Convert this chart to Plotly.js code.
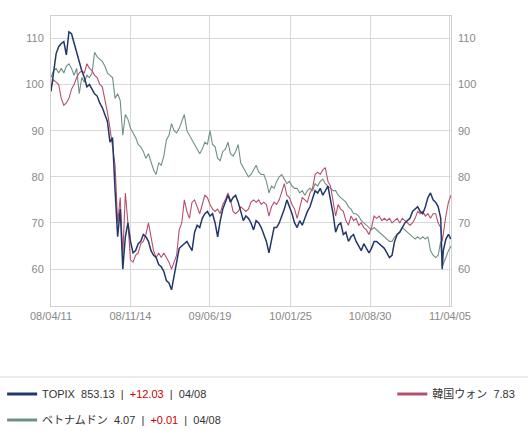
<!DOCTYPE html>
<html>
<head>
<meta charset="utf-8">
<script src="https://cdn.plot.ly/plotly-3.0.1.min.js"></script>
<style>html,body{margin:0;padding:0;background:#fff;}#chart{width:528px;height:431px;}</style>
</head>
<body>
<div id="chart"></div>
<script>
const dates = [
"2008-04-11","2008-04-18","2008-04-25","2008-05-02","2008-05-09","2008-05-16","2008-05-23","2008-05-30","2008-06-06","2008-06-13",
"2008-06-20","2008-06-27","2008-07-04","2008-07-11","2008-07-18","2008-07-25","2008-08-01","2008-08-08","2008-08-15","2008-08-22",
"2008-08-29","2008-09-05","2008-09-12","2008-09-19","2008-09-26","2008-10-03","2008-10-10","2008-10-17","2008-10-24","2008-10-31",
"2008-11-07","2008-11-14","2008-11-21","2008-11-28","2008-12-05","2008-12-12","2008-12-19","2008-12-26",
"2009-01-02","2009-01-09","2009-01-16","2009-01-23","2009-01-30","2009-02-06","2009-02-13","2009-02-20","2009-02-27","2009-03-06",
"2009-03-13","2009-03-20","2009-03-27","2009-04-03","2009-04-10","2009-04-17","2009-04-24","2009-05-01","2009-05-08","2009-05-15",
"2009-05-22","2009-05-29","2009-06-05","2009-06-12","2009-06-19","2009-06-26","2009-07-03","2009-07-10","2009-07-17","2009-07-24",
"2009-07-31","2009-08-07","2009-08-14","2009-08-21","2009-08-28","2009-09-04","2009-09-11","2009-09-18","2009-09-25","2009-10-02",
"2009-10-09","2009-10-16","2009-10-23","2009-10-30","2009-11-06","2009-11-13","2009-11-20","2009-11-27","2009-12-04","2009-12-11",
"2009-12-18","2009-12-25",
"2010-01-01","2010-01-08","2010-01-15","2010-01-22","2010-01-29","2010-02-05","2010-02-12","2010-02-19","2010-02-26","2010-03-05",
"2010-03-12","2010-03-19","2010-03-26","2010-04-02","2010-04-09","2010-04-16","2010-04-23","2010-04-30","2010-05-07","2010-05-14",
"2010-05-21","2010-05-28","2010-06-04","2010-06-11","2010-06-18","2010-06-25","2010-07-02","2010-07-09","2010-07-16","2010-07-23",
"2010-07-30","2010-08-06","2010-08-13","2010-08-20","2010-08-27","2010-09-03","2010-09-10","2010-09-17","2010-09-24","2010-10-01",
"2010-10-08","2010-10-15","2010-10-22","2010-10-29","2010-11-05","2010-11-12","2010-11-19","2010-11-26","2010-12-03","2010-12-10",
"2010-12-17","2010-12-24","2010-12-31",
"2011-01-07","2011-01-14","2011-01-21","2011-01-28","2011-02-04","2011-02-11","2011-02-18","2011-02-25","2011-03-04","2011-03-11",
"2011-03-15","2011-03-18","2011-03-25","2011-04-01","2011-04-08"
];

const topix = [
98.5,102.5,106.7,108.2,108.9,109.3,106.4,111.4,111,109,
107,104.5,103,101.5,99.5,100,99,98,97.5,96,
95,93.5,92,87.5,88.5,77,67,73,60,67,
70,66,63.5,64,65.5,66,67.5,67,66,64,
63,62.5,61,60.5,59.5,57.5,57,55.5,58.5,62,
64.5,65,65.5,66,65,64,68,69.5,69,71,
72,72.5,71.5,72,70,67,70.5,73,74.5,76,
74.5,75.5,76,74.5,72.5,70.5,71.5,71,70,68.5,
70.5,70,69,67.5,66,63.5,66.5,69,69,70,
71.5,73,75,73.5,72,70,69,70.5,69.5,71,
72.5,73.5,75.5,77,76.5,77.5,76,77,78,75,
72,68,69.5,70,67.5,68,66,67,67.5,66,
65,64,65.5,64.5,63.5,64.5,66,66,65.5,65,
64.5,63.5,62.5,63,66,67.5,68,69,70,70.5,
71,72.5,73,73.5,72.5,72,73.5,75.5,76.5,75,
74.5,73.5,71,
60,64,66.5,67.5,66.5
];

const krw = [
99.5,101,100.5,100,97,95.5,96,97,99,100,
101.5,102.5,103,102.5,104.5,103.5,103,102,101.5,100,
99.5,97,94,90.5,86.5,82.5,70,75.5,63,76.5,
70,62,61.5,63,63.5,65.5,66,67.5,70,67,
64,62.5,63.5,62.5,63.5,62.5,61.5,60,61.5,63,
68.5,70,75,72.5,71,74.5,75,73.5,72,74,
76,75.5,74,73,72.5,73,72,74,75,76.5,
75,72.5,72,72.5,73.5,73,72.5,73,74.5,75,
74.5,75,74,74.5,74,71.5,73.5,74.5,74,75,
77,78.5,76,75.5,74,73,71,73.5,75.5,75,
74.5,76.5,77.5,80.5,81,80.5,81.5,82,79,78,
75,71.5,74,73,72.5,70.5,69.5,71.5,70.5,71,
69.5,70,69,68.5,67.5,69,71.5,71,71.5,70.5,
71,70.5,71,70,70.5,71,70,71,70.5,70,
69.5,70,71,72.5,72,72.5,71.5,72,71,72,
72,70,69,
66,68,71.5,74.5,76
];

const vnd = [
101.5,103,103.5,102.5,103.5,102.5,104,104.5,103.5,102,
103.5,98,101.5,100.5,102,101.5,102.5,107,106,105.5,
105,104,102.5,102,101.5,97,98,96.5,89,93.5,
92.5,90.5,89.5,88.5,87,86.5,85.5,84,85,83,
81.5,80.5,83,82.5,84.5,88,89,91.5,90,89.5,
90.5,92,93.5,90,89,88,87,86,85,86,
87.5,87,90,87,86.5,84,83.5,85.5,86,87.5,
85,84.5,85.5,87,83,82,81,80,80.5,81.5,
82.5,81,80.5,80.5,79,76.5,78,77.5,79,80,
80.5,79.5,78.5,79,78,77.5,77.5,76.5,77,76,
77,77.5,77,78.5,78,79,79.5,78.5,78,77.5,
77,77,76,75.5,75,74.5,73.5,73,72,72,
71.5,70.5,70,69.5,69,68.5,69,68.5,68,67.5,
67,66.5,66,66,67,67.5,68,69,68.5,68,
67.5,67,66.5,67,66.5,67,66.5,67,64,63,
62.5,63,66,
60.5,61,62.5,64,65
];

const seriesNames = ["TOPIX", "韓国ウォン", "ベトナムドン"];
const lastValues = ["853.13", "7.83", "4.07"];
const changes = ["+12.03", null, "+0.01"];
const lastDates = ["04/08", null, "04/08"];
const colors = ["#23386a", "#b5506b", "#6f9182"];

const tickDates = ["2008-04-11","2008-11-14","2009-06-19","2010-01-25","2010-08-30","2011-04-05"];
const tickLabels = ["08/04/11","08/11/14","09/06/19","10/01/25","10/08/30","11/04/05"];

const SP = "\u00a0\u00a0";
function label(k){
  let s = seriesNames[k] + SP + lastValues[k];
  if (changes[k]) s += SP + "|" + SP + '<span style="color:#cc0000">' + changes[k] + '</span>' + SP + "|" + SP + lastDates[k];
  return s;
}

const font = {family: '"Liberation Sans", "Noto Sans CJK JP", sans-serif', size: 11, color: '#888'};

const vals = [topix, krw, vnd];
const order = [2, 1, 0];
const legendIds = ["legend", "legend2", "legend3"];
const traces = [];
order.forEach(k => {
  traces.push({x: dates, y: vals[k], type: 'scatter', mode: 'lines',
    line: {color: colors[k], width: k === 0 ? 1.5 : 1.1}, showlegend: false, hoverinfo: 'skip'});
});
[0,1,2].forEach(k => {
  traces.push({x: [null], y: [null], type: 'scatter', mode: 'lines', name: label(k),
    line: {color: colors[k], width: 3}, showlegend: true, legend: legendIds[k]});
});
traces.push({x: [dates[0]], y: [null], yaxis: 'y2', type: 'scatter', mode: 'lines', showlegend: false, hoverinfo: 'skip'});

const legFont = {family: '"Liberation Sans", "Noto Sans CJK JP", sans-serif', size: 11, color: '#333'};
function leg(x, y){
  return {xref: 'container', yref: 'container', x: x, y: y, xanchor: 'left', yanchor: 'middle',
    orientation: 'h', font: legFont, bgcolor: 'rgba(0,0,0,0)', borderwidth: 0};
}
const layout = {
  width: 528, height: 431,
  margin: {l: 51, r: 77, t: 16, b: 125, autoexpand: false},
  paper_bgcolor: '#fff', plot_bgcolor: '#fff',
  font: font,
  xaxis: {type: 'date', range: ['2008-04-11', '2011-04-08'], tickvals: tickDates, ticktext: tickLabels,
    showgrid: true, gridcolor: '#d9d9d9', gridwidth: 1, showline: true, mirror: true, linecolor: '#d0d0d0',
    ticks: '', zeroline: false, tickfont: font, automargin: false},
  yaxis: {range: [52, 114.85], tick0: 0, dtick: 10, showgrid: true, gridcolor: '#d9d9d9', showline: true,
    mirror: true, linecolor: '#d0d0d0', ticks: '', zeroline: false, tickfont: font, ticklabelstandoff: 4, automargin: false},
  yaxis2: {range: [52, 114.85], tick0: 0, dtick: 10, overlaying: 'y', side: 'right', showgrid: false,
    zeroline: false, showline: false, ticks: '', tickfont: font, ticklabelstandoff: 6, automargin: false},
  legend: leg(0.004, 0.0858),
  legend2: leg(0.743, 0.0858),
  legend3: leg(0.004, 0.0255),
  shapes: [{type: 'line', xref: 'paper', yref: 'paper', x0: -0.1275, x1: 1.1925, y0: -0.2448, y1: -0.2448,
    line: {color: '#d8d8d8', width: 1}}],
  showlegend: true
};
Plotly.newPlot('chart', traces, layout, {staticPlot: true, displayModeBar: false});
</script>
</body>
</html>
